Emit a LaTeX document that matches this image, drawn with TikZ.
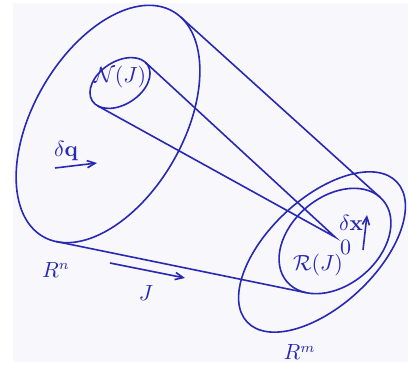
\documentclass[tikz,border=0pt]{standalone}
\usetikzlibrary{arrows.meta}
\definecolor{ink}{RGB}{40,40,180}
\definecolor{paper}{RGB}{248,248,252}
\begin{document}
\begin{tikzpicture}[x=0.5pt,y=0.5pt,
  curve/.style={draw=ink,line width=0.8pt},
  lbl/.style={text=ink,inner sep=0pt,font=\fontsize{10.5}{12.6}\selectfont},
  vec/.style={draw=ink,line width=0.8pt,-{Straight Barb[length=4pt,width=3.6pt]}}]
\useasboundingbox (0,0) rectangle (408,365);
\fill[white] (0,0) rectangle (408,365);
\fill[paper] (13,3) rectangle (408,362);
% ellipses
\draw[curve,rotate around={60:(108,241)}] (108,241) ellipse [x radius=130, y radius=75];
\draw[curve,rotate around={33:(120,282)}] (120,282) ellipse [x radius=33, y radius=21.4];
\draw[curve,rotate around={40:(335,124)}] (335,124) ellipse [x radius=63, y radius=44];
\draw[curve,rotate around={43:(322,113)}] (322,113) ellipse [x radius=102.5, y radius=53.6];
% tangent points
\coordinate (e1top) at (180.4,348.2);
\coordinate (e3top) at (380.2,167.6);
\coordinate (e1bot) at (56.1,123.5);
\coordinate (e3bot) at (306.1,72.3);
\coordinate (n1) at (145.4,302.7);
\coordinate (n2) at (97.65,259.15);
\coordinate (o) at (335,128);
% cone lines
\draw[curve] (e1top) -- (e3top);
\draw[curve] (e1bot) -- (e3bot);
\draw[curve] (n1) -- (o) -- (n2);
% labels
\node[lbl] (NJ) at (120,287.5) {$\mathcal{N}(J)$};
\node[lbl] (dq) at (66,214) {$\delta\mathbf{q}$};
\node[lbl] (Rn) at (56,95) {$R^n$};
\node[lbl] (Jl) at (146,72) {$J$};
\node[lbl] (RJ) at (318,100) {$\mathcal{R}(J)$};
\node[lbl] (zero) at (345.5,118) {$0$};
\node[lbl] (dx) at (351,142.5) {$\delta\mathbf{x}$};
\node[lbl] (Rm) at (299.5,12.5) {$R^m$};
% arrows
\coordinate (dqa) at (55,197); \coordinate (dqb) at (97,202);
\coordinate (Ja) at (110,102); \coordinate (Jb) at (185,87);
\coordinate (dxa) at (363,115); \coordinate (dxb) at (367,150);
\draw[vec] (dqa) -- (dqb);
\draw[vec] (Ja) -- (Jb);
\draw[vec] (dxa) -- (dxb);
\end{tikzpicture}
\end{document}
